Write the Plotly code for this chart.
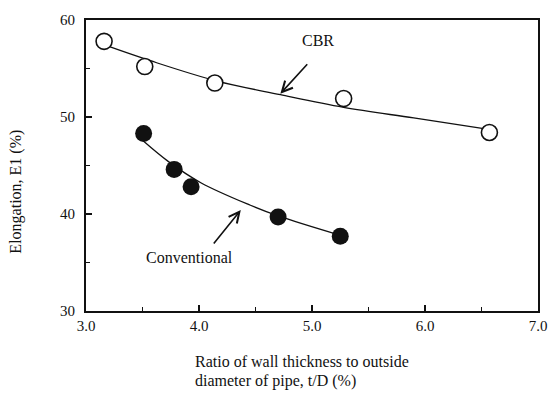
import plotly.graph_objects as go

# ---- data ----
cbr_x = [3.16, 3.52, 4.14, 5.28, 6.57]
cbr_y = [57.8, 55.2, 53.5, 51.9, 48.4]
conv_x = [3.51, 3.78, 3.93, 4.70, 5.25]
conv_y = [48.3, 44.6, 42.8, 39.7, 37.7]

# trend curves as drawn in the reference
cbr_fit_x = [3.17, 3.57, 4.16, 4.72, 5.28, 5.90, 6.52]
cbr_fit_y = [57.4, 55.8, 53.7, 52.3, 51.0, 49.9, 48.8]
conv_fit_x = [3.50, 3.73, 4.02, 4.455, 4.70, 5.25]
conv_fit_y = [47.6, 45.4, 43.2, 40.9, 39.8, 37.8]

x_ticks = [3.0, 4.0, 5.0, 6.0, 7.0]
x_tick_labels = ["3.0", "4.0", "5.0", "6.0", "7.0"]
y_ticks = [30, 40, 50, 60]

FONT = "Liberation Serif, Times New Roman, DejaVu Serif, serif"
INK = "#111111"

fig = go.Figure()

fig.add_trace(go.Scatter(x=cbr_fit_x, y=cbr_fit_y, mode="lines",
                         line=dict(color=INK, width=1.3, shape="spline", smoothing=1.0),
                         showlegend=False, hoverinfo="skip"))
fig.add_trace(go.Scatter(x=conv_fit_x, y=conv_fit_y, mode="lines",
                         line=dict(color=INK, width=1.3, shape="spline", smoothing=1.0),
                         showlegend=False, hoverinfo="skip"))
fig.add_trace(go.Scatter(x=cbr_x, y=cbr_y, mode="markers", name="CBR",
                         marker=dict(symbol="circle", size=16, color="white",
                                     line=dict(color=INK, width=1.6)),
                         showlegend=False))
fig.add_trace(go.Scatter(x=conv_x, y=conv_y, mode="markers", name="Conventional",
                         marker=dict(symbol="circle", size=17, color=INK,
                                     line=dict(color=INK, width=0)),
                         showlegend=False))

# labels with arrows
fig.add_annotation(x=5.05, y=57.9, text="CBR", showarrow=False,
                   font=dict(family=FONT, size=16, color=INK))
fig.add_annotation(x=4.72, y=52.4, ax=4.97, ay=55.6, axref="x", ayref="y",
                   text="", showarrow=True, arrowhead=5, arrowsize=1.3,
                   arrowwidth=1.6, arrowcolor=INK)
fig.add_annotation(x=3.92, y=35.5, text="Conventional", showarrow=False,
                   font=dict(family=FONT, size=16, color=INK))
fig.add_annotation(x=4.37, y=40.4, ax=4.12, ay=36.8, axref="x", ayref="y",
                   text="", showarrow=True, arrowhead=5, arrowsize=1.3,
                   arrowwidth=1.6, arrowcolor=INK)

# axis titles
fig.add_annotation(xref="paper", yref="paper", x=0.236, y=-0.175,
                   xanchor="left", yanchor="middle", align="left", showarrow=False,
                   text="Ratio of wall thickness to outside",
                   font=dict(family=FONT, size=16, color=INK))
fig.add_annotation(xref="paper", yref="paper", x=0.236, y=-0.24,
                   xanchor="left", yanchor="middle", align="left", showarrow=False,
                   text="diameter of pipe, t/D (%)",
                   font=dict(family=FONT, size=16, color=INK))
fig.add_annotation(xref="paper", yref="paper", x=-0.155, y=0.41,
                   xanchor="center", yanchor="middle", textangle=-90, showarrow=False,
                   text="Elongation, E1 (%)",
                   font=dict(family=FONT, size=16, color=INK))

fig.update_layout(
    width=557, height=402,
    margin=dict(l=86, r=10, t=20, b=91),
    paper_bgcolor="white", plot_bgcolor="white",
    font=dict(family=FONT, size=14, color=INK),
    showlegend=False,
)
fig.update_xaxes(range=[3.0, 7.0], tickvals=x_ticks, ticktext=x_tick_labels,
                 ticks="inside", ticklen=6, tickwidth=1.5, tickcolor=INK,
                 minor=dict(dtick=0.5, ticks="inside", ticklen=4, tickwidth=1.2, tickcolor=INK),
                 showline=True, linewidth=2, linecolor=INK, mirror=True,
                 showgrid=False, zeroline=False,
                 tickfont=dict(family=FONT, size=15, color=INK))
fig.update_yaxes(range=[30, 60], tickvals=y_ticks,
                 ticks="inside", ticklen=6, tickwidth=1.5, tickcolor=INK,
                 minor=dict(dtick=5, ticks="inside", ticklen=4, tickwidth=1.2, tickcolor=INK),
                 showline=True, linewidth=2, linecolor=INK, mirror=True,
                 showgrid=False, zeroline=False, ticklabelstandoff=6,
                 tickfont=dict(family=FONT, size=15, color=INK))

fig.write_html("out.html")
